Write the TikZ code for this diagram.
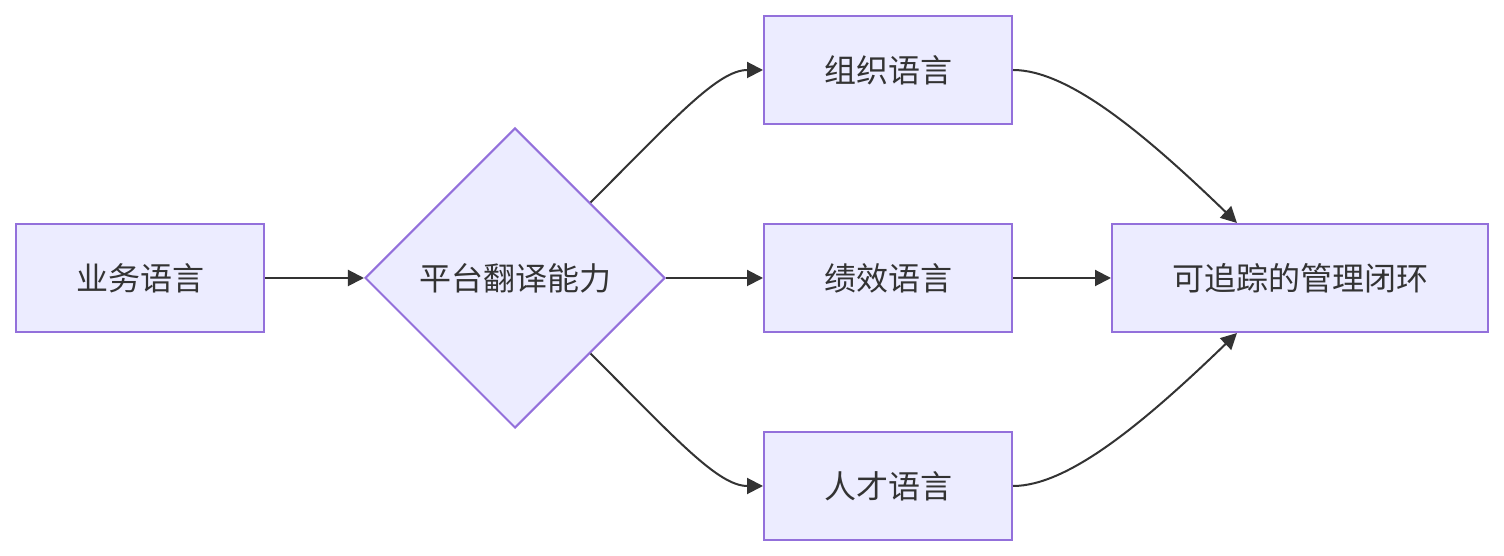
\documentclass[tikz,border=0pt]{standalone}
\usepackage{fontspec}
\newfontfamily\cjk{Noto Sans CJK SC}
\usepackage{tikz}
\usetikzlibrary{arrows.meta,calc,shapes.geometric}
\definecolor{nodefill}{HTML}{ECECFF}
\definecolor{nodeline}{HTML}{9370DB}
\definecolor{linkcol}{HTML}{333333}
\tikzset{
  box/.style      = {draw=nodeline, line width=1pt, fill=nodefill, minimum width=124pt,
                     minimum height=54pt, inner sep=0pt, text=linkcol,
                     font=\cjk\fontsize{16}{19}\selectfont},
  decision/.style = {box, diamond, minimum width=150pt, minimum height=150pt, aspect=1},
  link/.style     = {draw=linkcol, line width=1pt, -{Triangle[length=8pt,width=8pt]}},
}
\begin{document}
\begin{tikzpicture}[x=0.5pt,y=0.5pt]
  \useasboundingbox (0,0) rectangle (1504,556);
  \node[box] (biz) at (140,278) {业务语言};
  \node[decision] (plat) at (515,278) {平台翻译能力};
  \node[box] (org) at (888,486) {组织语言};
  \node[box] (perf) at (888,278) {绩效语言};
  \node[box] (tal) at (888,70) {人才语言};
  \node[box, minimum width=188pt] (loop) at (1300,278) {可追踪的管理闭环};
  \coordinate (loopin1) at ($(loop.north west)!1/3!(loop.north east)$);
  \coordinate (loopin3) at ($(loop.south west)!1/3!(loop.south east)$);
  \draw[link] (biz) -- (plat);
  \draw[link] (plat.north east) .. controls +(45:120) and +(180:45) .. (org.west);
  \draw[link] (plat) -- (perf);
  \draw[link] (plat.south east) .. controls +(-45:120) and +(180:45) .. (tal.west);
  \draw[link] (org.east) .. controls +(0:55) and +(136:130) .. (loopin1);
  \draw[link] (perf) -- (loop);
  \draw[link] (tal.east) .. controls +(0:55) and +(-136:130) .. (loopin3);
\end{tikzpicture}
\end{document}
